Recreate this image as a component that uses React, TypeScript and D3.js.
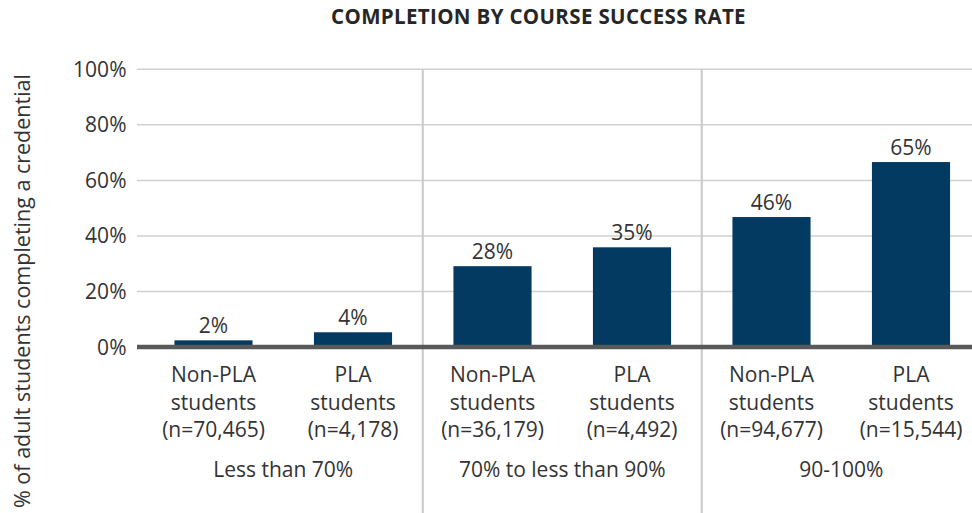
import React from "react";
import * as d3 from "d3";

const groups = ["Less than 70%", "70% to less than 90%", "90-100%"];
const categories = ["Non-PLA", "PLA", "Non-PLA", "PLA", "Non-PLA", "PLA"];
const sampleSizes = ["(n=70,465)", "(n=4,178)", "(n=36,179)", "(n=4,492)", "(n=94,677)", "(n=15,544)"];
const values = [2.4, 5.3, 29.1, 35.9, 46.8, 66.6];
const valueLabels = ["2%", "4%", "28%", "35%", "46%", "65%"];
const yTicks = [0, 20, 40, 60, 80, 100];

const W = 972;
const H = 513;
const FONT = "'Open Sans', 'Noto Sans', sans-serif";
const TEXT = "#333333";
const BAR = "#023A62";
const FS = 21;

export default function App() {
  const y = d3.scaleLinear().domain([0, 100]).range([347, 69.3]);
  const x = d3
    .scaleBand<number>()
    .domain(d3.range(categories.length))
    .range([143.75, 980.75])
    .paddingInner(0.44)
    .paddingOuter(0.22);
  const step = x.step();
  const bw = x.bandwidth();
  const gap = step - bw;
  const gridX0 = 137;
  const gridX1 = W;

  const sepX = [2, 4].map((i) => (x(i) as number) - gap / 2);

  return (
    <svg
      width={W}
      height={H}
      style={{ position: "absolute", left: 0, top: 0, display: "block" }}
      fontFamily={FONT}
    >
      <rect x={0} y={0} width={W} height={H} fill="#ffffff" />
      <text
        x={538.5}
        y={24}
        textAnchor="middle"
        fontWeight={700}
        fontSize={20.5}
        letterSpacing={0.35}
        fill="#262626"
      >
        COMPLETION BY COURSE SUCCESS RATE
      </text>

      {yTicks.map((t) => (
        <g key={t}>
          {t > 0 && (
            <line
              x1={gridX0}
              x2={gridX1}
              y1={y(t)}
              y2={y(t)}
              stroke="#D0D0D0"
              strokeWidth={1.5}
            />
          )}
          <text
            x={126.5}
            y={y(t)}
            dy="0.36em"
            textAnchor="end"
            fontSize={FS}
            fill={TEXT}
          >
            {t}%
          </text>
        </g>
      ))}

      {sepX.map((sx, i) => (
        <line
          key={i}
          x1={sx}
          x2={sx}
          y1={y(100)}
          y2={H}
          stroke="#C8C8C8"
          strokeWidth={2}
        />
      ))}

      {values.map((v, i) => (
        <g key={i}>
          <rect
            x={x(i)}
            y={y(v)}
            width={bw}
            height={y(0) - y(v)}
            fill={BAR}
          />
          <text
            x={(x(i) as number) + bw / 2}
            y={y(v) - 7}
            textAnchor="middle"
            fontSize={FS}
            fill={TEXT}
          >
            {valueLabels[i]}
          </text>
          <text
            x={(x(i) as number) + bw / 2}
            textAnchor="middle"
            fontSize={FS}
            fill={TEXT}
          >
            <tspan x={(x(i) as number) + bw / 2} y={382}>
              {categories[i]}
            </tspan>
            <tspan x={(x(i) as number) + bw / 2} y={410}>
              students
            </tspan>
            <tspan x={(x(i) as number) + bw / 2} y={437}>
              {sampleSizes[i]}
            </tspan>
          </text>
        </g>
      ))}

      <line
        x1={gridX0}
        x2={gridX1}
        y1={y(0)}
        y2={y(0)}
        stroke="#595959"
        strokeWidth={4.5}
      />

      {groups.map((g, gi) => {
        const cx = ((x(gi * 2) as number) + (x(gi * 2 + 1) as number) + bw) / 2;
        return (
          <text
            key={g}
            x={cx}
            y={477}
            textAnchor="middle"
            fontSize={FS}
            fill={TEXT}
          >
            {g}
          </text>
        );
      })}

      <text
        transform="translate(30, 291) rotate(-90)"
        textAnchor="middle"
        fontSize={21.5}
        fill={TEXT}
      >
        % of adult students completing a credential
      </text>
    </svg>
  );
}
